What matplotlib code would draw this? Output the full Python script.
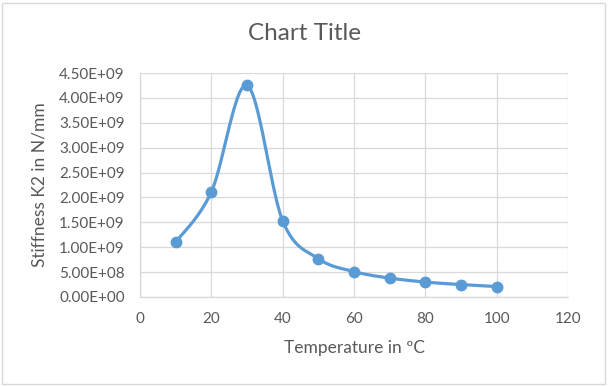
import numpy as np
import matplotlib.pyplot as plt
from matplotlib.ticker import FuncFormatter

temperature = [10, 20, 30, 40, 50, 60, 70, 80, 90, 100]
stiffness_k2 = [1.10e9, 2.11e9, 4.25e9, 1.53e9, 0.77e9, 0.51e9, 0.38e9, 0.30e9, 0.25e9, 0.21e9]

x_ticks = [0, 20, 40, 60, 80, 100, 120]
y_ticks = np.arange(0, 4.5e9 + 1, 0.5e9)

LINE_COLOR = "#5B9BD5"
TEXT_COLOR = "#595959"
GRID_COLOR = "#D9D9D9"


def smooth_curve(x, y, steps=30):
    # Excel style smoothed line: cubic bezier through points,
    # control points taken from neighbouring points (catmull-rom like)
    x = np.asarray(x, dtype=float)
    y = np.asarray(y, dtype=float)
    px = np.concatenate([[x[0]], x, [x[-1]]])
    py = np.concatenate([[y[0]], y, [y[-1]]])
    xs, ys = [], []
    t = np.linspace(0, 1, steps)
    for i in range(1, len(px) - 2):
        p0 = np.array([px[i], py[i]])
        p3 = np.array([px[i + 1], py[i + 1]])
        c1 = p0 + (np.array([px[i + 1], py[i + 1]]) - np.array([px[i - 1], py[i - 1]])) / 6
        c2 = p3 - (np.array([px[i + 2], py[i + 2]]) - np.array([px[i], py[i]])) / 6
        b = ((1 - t) ** 3)[:, None] * p0 + (3 * (1 - t) ** 2 * t)[:, None] * c1 \
            + (3 * (1 - t) * t ** 2)[:, None] * c2 + (t ** 3)[:, None] * p3
        xs.extend(b[:, 0])
        ys.extend(b[:, 1])
    return xs, ys


plt.rcParams["font.family"] = ["Lato", "DejaVu Sans"]

fig = plt.figure(figsize=(6.09, 3.87), dpi=100)
ax = fig.add_axes([140 / 609, 1 - 297 / 387, 428 / 609, 224 / 387])

sx, sy = smooth_curve(temperature, stiffness_k2)
ax.plot(sx, sy, color=LINE_COLOR, linewidth=2.3, solid_capstyle="round", zorder=3)
ax.plot(temperature, stiffness_k2, "o", color=LINE_COLOR, markersize=7.5, zorder=4)

ax.set_xlim(0, 120)
ax.set_ylim(0, 4.5e9)
ax.set_xticks(x_ticks)
ax.set_yticks(y_ticks)
ax.yaxis.set_major_formatter(FuncFormatter(lambda v, _: f"{v:.2E}"))
ax.tick_params(length=0, labelsize=11, colors=TEXT_COLOR)
ax.tick_params(axis="y", pad=11)
ax.tick_params(axis="x", pad=11)
ax.grid(True, color=GRID_COLOR, linewidth=0.9)
ax.set_axisbelow(True)
for side in ["top", "right"]:
    ax.spines[side].set_visible(False)
for side in ["left", "bottom"]:
    ax.spines[side].set_color(GRID_COLOR)
    ax.spines[side].set_linewidth(0.9)

ax.set_xlabel("Temperature in \u00baC", fontsize=12.5, color=TEXT_COLOR, labelpad=10)
ax.set_ylabel("Stiffness K2 in N/mm", fontsize=12.5, color=TEXT_COLOR, labelpad=8)
fig.text(0.5, 1 - 34 / 387, "Chart Title", ha="center", va="center", fontsize=17.5, color=TEXT_COLOR)

# outer chart border
fig.patches.append(plt.Rectangle((2 / 609, 3 / 387), 603 / 609, 381 / 387, transform=fig.transFigure,
                                 fill=False, edgecolor="#D9D9D9", linewidth=1))

fig.savefig("out.png", dpi=100)
